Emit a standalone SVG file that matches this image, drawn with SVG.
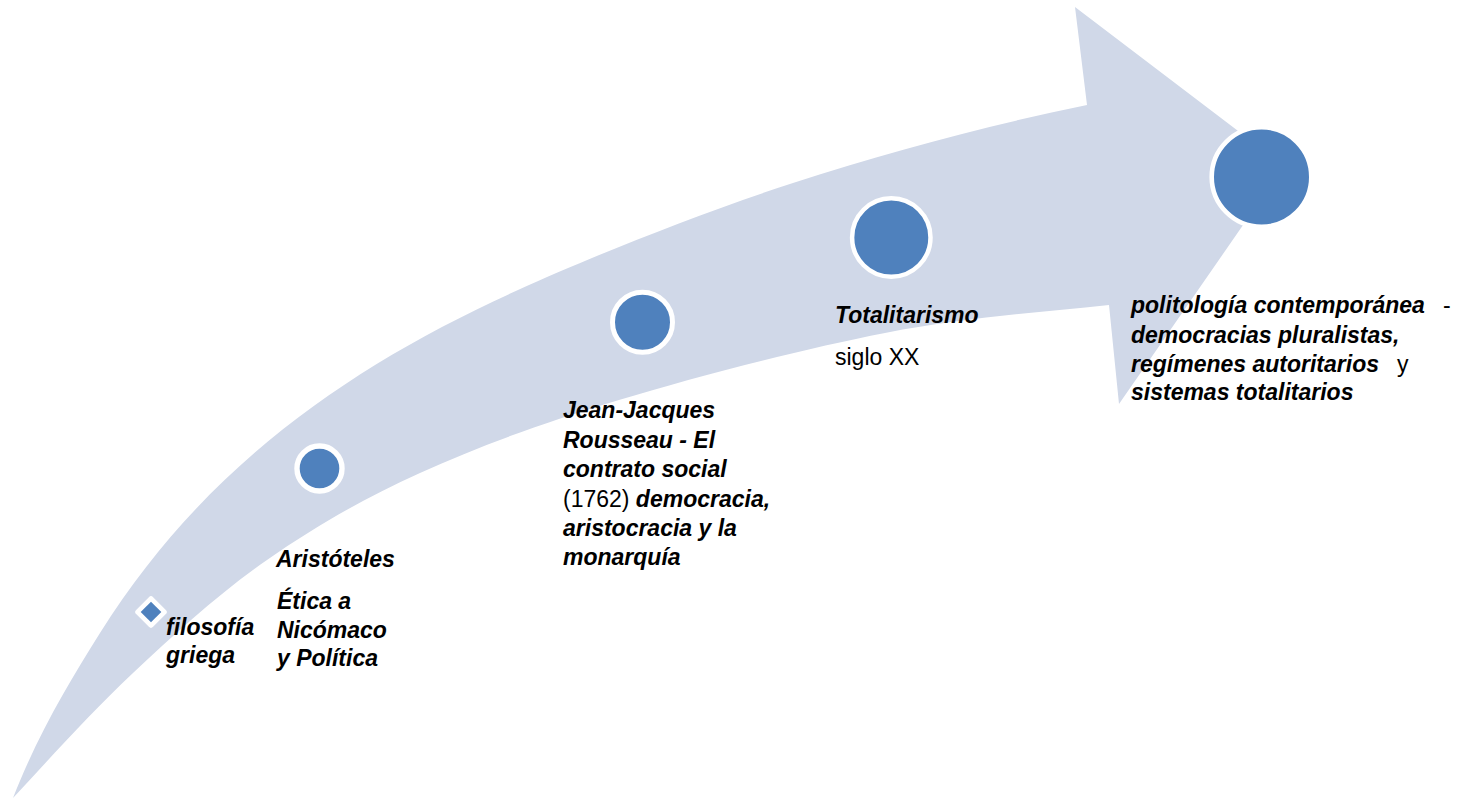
<svg xmlns="http://www.w3.org/2000/svg" width="1468" height="799" viewBox="0 0 1468 799">
<style>
.arrow{fill:#D0D8E8;stroke:none}
.dot{fill:#4F81BD;stroke:#FFFFFF}
.t{font-family:"Liberation Sans",Arial,sans-serif;font-size:23px;fill:#000000}
.bi{font-weight:bold;font-style:italic}
.r{font-weight:normal;font-style:normal}
</style>
<rect width="1468" height="799" fill="#FFFFFF"/>
<g id="arrow">
<path class="arrow" d="M13,798 C38,734 68.8,682.7 100,633 C206,464 354,364 518,290 C590.2,257.2 698.2,213.8 793,183 C887.8,152.2 989,125 1087,105 L1075,7 L1284,166 L1119,404 L1109,305 C1034,313 966.7,317.2 885,333 C803.3,348.8 696.5,376.7 619,400 C541.5,423.3 478.7,446.3 420,473 C361.3,499.7 314.8,526.7 267,560 C219.2,593.3 175.3,633.3 133,673 C90.7,712.7 53,755 13,798 Z"/>
</g>
<g id="node-filosofia">
<rect x="139" y="600" width="24" height="24" rx="3" fill="#FFFFFF" transform="rotate(45 151 612)"/>
<rect x="143.7" y="604.7" width="14.6" height="14.6" fill="#4F81BD" transform="rotate(45 151 612)"/>
<text class="t bi" x="166"><tspan x="166" y="635">filosofía</tspan><tspan x="166" y="663">griega</tspan></text>
</g>
<g id="node-aristoteles">
<circle class="dot" cx="319.5" cy="468.5" r="22.5" stroke-width="5.4"/>
<text class="t bi"><tspan x="276" y="567">Aristóteles</tspan><tspan x="277" y="609">Ética a</tspan><tspan x="277" y="638">Nicómaco</tspan><tspan x="277" y="666">y Política</tspan></text>
</g>
<g id="node-rousseau">
<circle class="dot" cx="642.5" cy="322.3" r="30" stroke-width="5"/>
<text class="t bi"><tspan x="563" y="418">Jean-Jacques</tspan><tspan x="563" y="447.5">Rousseau - El</tspan><tspan x="563" y="477">contrato social</tspan><tspan x="563" y="506.5"><tspan class="r">(1762)</tspan> democracia,</tspan><tspan x="563" y="535.5">aristocracia y la</tspan><tspan x="563" y="565">monarquía</tspan></text>
</g>
<g id="node-totalitarismo">
<circle class="dot" cx="891.3" cy="237.5" r="39.2" stroke-width="4.5"/>
<text class="t"><tspan class="bi" x="835" y="323">Totalitarismo</tspan><tspan class="r" x="835" y="365">siglo XX</tspan></text>
</g>
<g id="node-politologia">
<circle class="dot" cx="1261.5" cy="177" r="49.8" stroke-width="4.6"/>
<text class="t bi"><tspan x="1131" y="313">politología contemporánea</tspan><tspan class="r" x="1443" y="313">-</tspan><tspan x="1131" y="343">democracias pluralistas,</tspan><tspan x="1131" y="372">regímenes autoritarios</tspan><tspan class="r" x="1397" y="372">y</tspan><tspan x="1131" y="400">sistemas totalitarios</tspan></text>
</g>
<g id="connectors"></g>
</svg>
